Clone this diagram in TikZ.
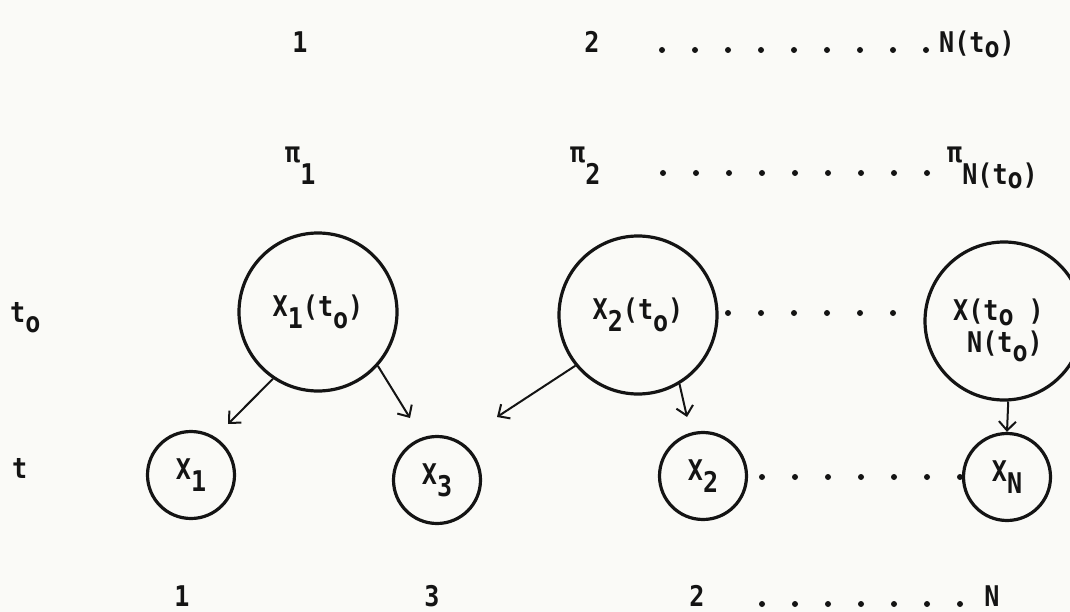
\documentclass[tikz,border=0pt]{standalone}
\usepackage{fontspec}
\setmonofont{DejaVu Sans Mono}[FakeStretch=0.88]
\usetikzlibrary{arrows.meta}
\newcommand\typ{\fontsize{28.5}{32}\selectfont\ttfamily\bfseries}
\newcommand\lo[1]{\raisebox{-12pt}{#1}}
\definecolor{paper}{RGB}{250,250,247}
\definecolor{ink}{RGB}{20,20,20}
\begin{document}
\begin{tikzpicture}[x=1pt,y=-1pt,
  every node/.style={font=\typ, inner sep=0pt, text=ink},
  bigc/.style={circle, draw=ink, line width=3.2pt, minimum size=158pt},
  smallc/.style={circle, draw=ink, line width=3.2pt, minimum size=87pt},
  arr/.style={draw=ink, line width=2pt, -{Straight Barb[length=9pt,width=17pt,line width=2pt]}}]
\fill[paper] (0,0) rectangle (1070,612);
\useasboundingbox (0,0) rectangle (1070,612);

% top row
\node[anchor=base] (n1) at (300,53) {1};
\node[anchor=base] (n2) at (592,53) {2};
\node[anchor=base west] (nN) at (939,53) {N(t\raisebox{-5pt}{o})};
\foreach \i in {0,...,8} \fill[ink] ({662+33*\i},50) circle (3pt);

% pi row
\node[anchor=base west] (p1) at (285,163) {π\raisebox{-22pt}{1}};
\node[anchor=base west] (p2) at (570,163) {π\raisebox{-22pt}{2}};
\node[anchor=base west] (pN) at (947,163) {π\raisebox{-22pt}{N(t\raisebox{-4pt}{o})}};
\foreach \i in {0,...,8} \fill[ink] ({663+33*\i},173) circle (3pt);

% time labels
\node[anchor=base west] (lt0) at (10,322) {t\raisebox{-10pt}{o}};
\node[anchor=base west] (lt) at (12,478) {t};

% big circles
\node[bigc] (B1) at (318,312) {X\lo{1}(t\lo{o})};
\node[bigc] (B2) at (638,315) {X\lo{2}(t\lo{o})};
\node[bigc] (BN) at (1004,321) {};
\node[anchor=base west] (BNa) at (953,320) {X(t\raisebox{-5pt}{o} )};
\node[anchor=base west] (BNb) at (967,352) {N(t\raisebox{-9pt}{o})};
\foreach \i in {0,...,5} \fill[ink] ({728+33*\i},313) circle (3pt);

% small circles
\node[smallc] (S1) at (191,475) {X\lo{1}};
\node[smallc] (S3) at (437,480) {X\lo{3}};
\node[smallc] (S2) at (703,476) {X\lo{2}};
\node[smallc] (SN) at (1007,477) {X\lo{N}};
\foreach \i in {0,...,6} \fill[ink] ({762+33*\i},477) circle (3pt);

% arrows
\coordinate (t11) at (228,424);
\coordinate (t13) at (410,418);
\coordinate (t23) at (497,417);
\coordinate (t22) at (687,417);
\draw[arr] (B1.236) -- (t11);
\draw[arr] (B1.318) -- (t13);
\draw[arr] (B2.219) -- (t23);
\draw[arr] (B2.301) -- (t22);
\draw[arr] (BN.273) -- (SN.north);

% bottom row
\node[anchor=base] (m1) at (182,606) {1};
\node[anchor=base] (m3) at (432,606) {3};
\node[anchor=base] (m2) at (697,606) {2};
\node[anchor=base] (mN) at (992,606) {N};
\foreach \i in {0,...,6} \fill[ink] ({762+33*\i},604) circle (3pt);
\end{tikzpicture}
\end{document}
